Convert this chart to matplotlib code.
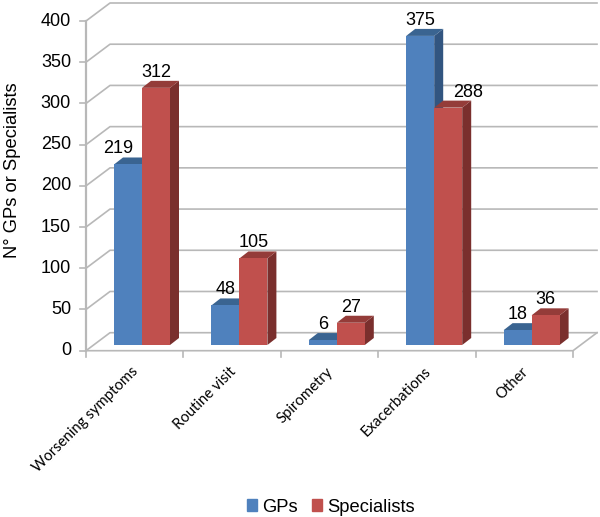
import matplotlib
matplotlib.use('Agg')
import matplotlib.pyplot as plt
from matplotlib.patches import Polygon, Patch

categories = ['Worsening symptoms', 'Routine visit', 'Spirometry', 'Exacerbations', 'Other']
gps = [219, 48, 6, 375, 18]
specialists = [312, 105, 27, 288, 36]
y_ticks = [0, 50, 100, 150, 200, 250, 300, 350, 400]

# label nudges in pixels, the chart moved a couple of them by hand
gps_nudge = [-10, 0, 0, 0, 0]
spec_nudge = [0, 0, 0, 20, 0]

W, H = 600, 517
LEFT, RIGHT = 86, 573
TOP, BOTTOM = 21, 350.7

BLUE = ('#4F81BD', '#3A6491', '#325580')
RED = ('#C0504D', '#943C39', '#7A2F2D')
GRID = '#B8B8B8'

plt.rcParams['font.family'] = ['Liberation Sans', 'DejaVu Sans']

fig = plt.figure(figsize=(W / 100, H / 100), dpi=100)
ax = fig.add_axes([LEFT / W, 1 - BOTTOM / H, (RIGHT - LEFT) / W, (BOTTOM - TOP) / H])
ax.set_xlim(0, len(categories))
ax.set_ylim(0, 400)
ax.axis('off')

# pixel sizes turned into data units
px_x = len(categories) / (RIGHT - LEFT)
px_y = 400 / (BOTTOM - TOP)
wall_dx, wall_dy = 24 * px_x, 18 * px_y
bar_dx, bar_dy = 9 * px_x, 7 * px_y
base = 5.7 * px_y
bar_w = 28 * px_x
margin = 28 * px_x

# walls and floor
for t in y_ticks:
    ax.plot([0, wall_dx, len(categories) + wall_dx], [t, t + wall_dy, t + wall_dy],
            color=GRID, lw=1.2, clip_on=False, zorder=1)
    ax.plot([-6 * px_x, 0], [t, t], color=GRID, lw=1.2, clip_on=False, zorder=1)
ax.plot([0, 0], [0, 400], color=GRID, lw=1.6, clip_on=False, zorder=1)
ax.plot([0, len(categories), len(categories) + wall_dx], [0, 0, wall_dy],
        color=GRID, lw=1.2, clip_on=False, zorder=1)
for i in range(len(categories) + 1):
    ax.plot([i, i], [0, -6 * px_y], color=GRID, lw=1.2, clip_on=False, zorder=1)


def draw_bar(left, value, cols, z):
    right = left + bar_w
    top = value + base
    ax.bar(left, value, bar_w, bottom=base, align='edge', color=cols[0], zorder=z + 0.2)
    ax.add_patch(Polygon([(left, top), (left + bar_dx, top + bar_dy),
                          (right + bar_dx, top + bar_dy), (right, top)],
                         color=cols[1], lw=0, zorder=z + 0.1, clip_on=False))
    ax.add_patch(Polygon([(right, base), (right + bar_dx, base + bar_dy),
                          (right + bar_dx, top + bar_dy), (right, top)],
                         color=cols[2], lw=0, zorder=z, clip_on=False))


for i in range(len(categories)):
    x0 = i + margin
    draw_bar(x0, gps[i], BLUE, 3)
    draw_bar(x0 + bar_w, specialists[i], RED, 4)
    ax.annotate(str(gps[i]), (x0 + bar_w / 2, gps[i] + base), xytext=(gps_nudge[i], 7),
                textcoords='offset pixels', ha='center', va='bottom',
                fontsize=13, color='black', zorder=6, annotation_clip=False)
    ax.annotate(str(specialists[i]), (x0 + bar_w * 1.5, specialists[i] + base),
                xytext=(spec_nudge[i], 7), textcoords='offset pixels', ha='center',
                va='bottom', fontsize=13, color='black', zorder=6, annotation_clip=False)
    ax.text(i + 0.465, -14 * px_y, categories[i], rotation=45, ha='right', va='top',
            rotation_mode='anchor', fontsize=10.7, family=['Lato', 'DejaVu Sans'],
            clip_on=False)

for t in y_ticks:
    ax.text(-15 * px_x, t, str(t), ha='right', va='center', fontsize=13, clip_on=False)

fig.text(13 / W, 1 - 170 / H, 'N° GPs or Specialists', rotation=90, ha='center',
         va='center', fontsize=13.2)

handles = [Patch(color=BLUE[0], label='GPs'), Patch(color=RED[0], label='Specialists')]
fig.legend(handles=handles, ncol=2, loc='center', bbox_to_anchor=(331 / W, 1 - 507 / H),
           frameon=False, fontsize=13.2, handlelength=0.55, handleheight=0.55,
           handletextpad=0.28, columnspacing=0.78, borderpad=0)

fig.savefig('out.png', dpi=100)
